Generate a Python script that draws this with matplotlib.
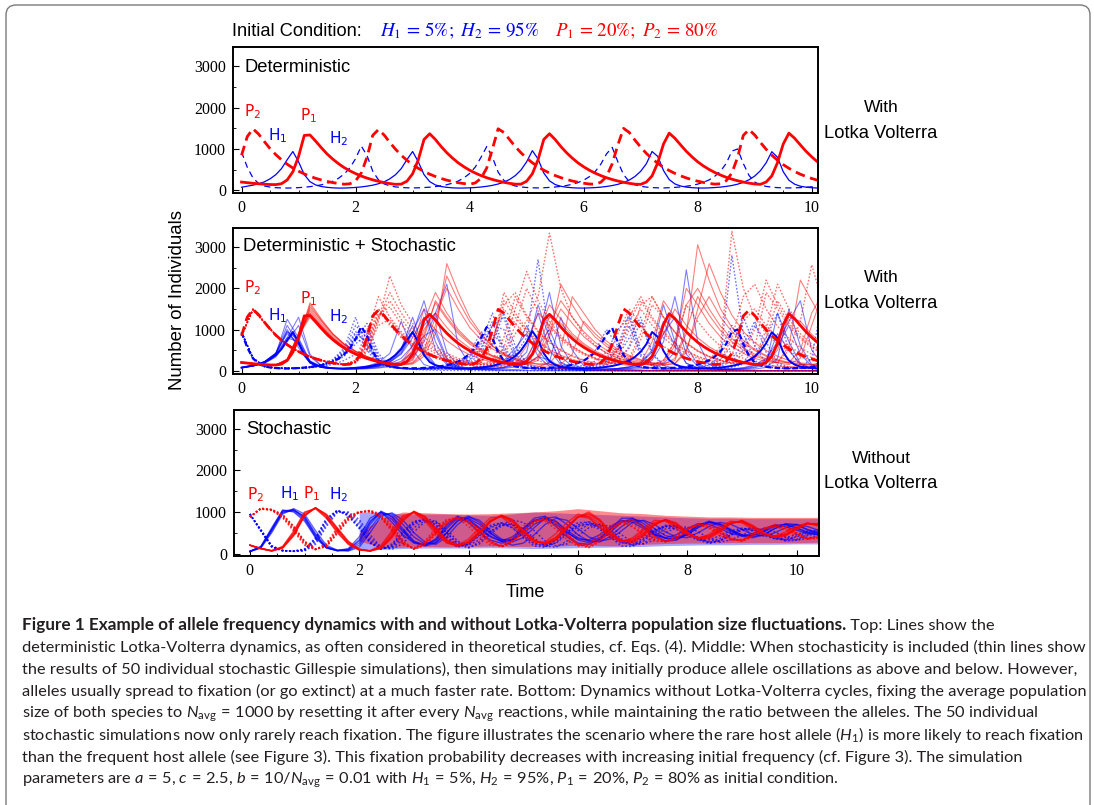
import numpy as np
import matplotlib
matplotlib.use("Agg")
import matplotlib.pyplot as plt
from matplotlib.patches import FancyBboxPatch

plt.rcParams['mathtext.fontset'] = 'custom'
plt.rcParams['mathtext.rm'] = 'Lato'
plt.rcParams['mathtext.it'] = 'Lato:italic'
plt.rcParams['mathtext.bf'] = 'Lato:bold'

# ------------------------------------------------------------------ data
# deterministic Lotka-Volterra curves, sampled every 0.1 time units from t=0
P1_det = [200, 185, 170, 158, 148, 140, 138, 160, 250, 450,
          820, 1330, 1340, 1190, 1030, 880, 755, 645, 550, 472,
          405, 345, 296, 254, 218, 188, 164, 145, 150, 220,
          400, 740, 1230, 1370, 1230, 1060, 910, 780, 665, 570,
          487, 417, 357, 305, 262, 225, 194, 169, 149, 150,
          220, 400, 740, 1230, 1370, 1230, 1060, 910, 780, 665,
          570, 487, 417, 357, 305, 262, 225, 194, 169, 149,
          145, 200, 350, 670, 1120, 1385, 1260, 1100, 945, 810,
          690, 590, 505, 432, 370, 315, 270, 232, 200, 174,
          153, 145, 200, 350, 670, 1120, 1385, 1260, 1100, 945,
          810, 690]
P2_det = [850, 1300, 1490, 1360, 1180, 1010, 865, 740, 632, 540,
          463, 397, 340, 290, 250, 215, 187, 165, 148, 158,
          230, 420, 800, 1330, 1470, 1340, 1160, 995, 850, 727,
          622, 532, 456, 390, 335, 286, 246, 212, 184, 163,
          146, 180, 290, 540, 1000, 1490, 1400, 1230, 1060, 910,
          780, 667, 570, 488, 418, 358, 307, 263, 226, 196,
          172, 153, 148, 195, 330, 640, 1100, 1500, 1400, 1215,
          1045, 893, 766, 654, 558, 479, 410, 351, 300, 257,
          221, 191, 168, 150, 158, 230, 420, 800, 1330, 1470,
          1340, 1160, 995, 850, 727, 622, 532, 456, 390, 335,
          286, 246]
H1_det = [75, 100, 125, 160, 205, 278, 378, 525, 740, 940,
          690, 380, 210, 130, 92, 72, 60, 54, 55, 61,
          70, 82, 100, 124, 158, 205, 278, 378, 525, 740,
          940, 690, 380, 210, 130, 92, 72, 60, 54, 55,
          60, 68, 80, 97, 120, 152, 197, 262, 355, 490,
          690, 960, 760, 420, 230, 140, 97, 75, 62, 55,
          54, 59, 66, 77, 93, 115, 145, 187, 248, 335,
          460, 645, 940, 820, 480, 260, 155, 104, 78, 64,
          56, 55, 59, 67, 78, 95, 117, 148, 192, 255,
          345, 475, 665, 935, 800, 450, 245, 148, 100, 76,
          63, 56]
H2_det = [930, 560, 300, 165, 105, 78, 64, 57, 55, 58,
          65, 75, 89, 108, 133, 169, 219, 291, 394, 544,
          766, 1070, 845, 466, 255, 155, 108, 83, 69, 61,
          58, 61, 67, 76, 90, 110, 136, 173, 225, 300,
          407, 565, 800, 1060, 800, 440, 243, 150, 105, 82,
          68, 61, 58, 62, 70, 80, 96, 117, 146, 188,
          245, 330, 450, 630, 880, 1040, 690, 380, 210, 135,
          97, 78, 66, 60, 58, 63, 71, 82, 98, 120,
          150, 193, 252, 340, 465, 650, 950, 1000, 650, 360,
          200, 130, 95, 76, 65, 60, 58, 60, 66, 74,
          86, 104]

# stochastic runs with Lotka-Volterra (middle), sampled every 0.2 time units
mid_H1 = [
    [75, 120, 210, 420, 1000, 560, 180, 80, 55, 50, 60, 85, 140, 260, 560, 1100, 420, 130, 60, 45,
     45, 55, 80, 140, 300, 700, 1400, 500, 150, 60, 40, 35, 40, 55, 90, 180, 450, 1200, 600, 180,
     70, 40, 30, 35, 50, 90, 220, 900, 500, 150, 60, 40],
    [70, 115, 200, 400, 1250, 800, 220, 90, 55, 45, 50, 70, 110, 200, 420, 900, 1700, 700, 180, 70,
     40, 35, 40, 55, 90, 170, 340, 260, 90, 40, 20, 12, 8, 6, 5, 4, 3, 3, 2, 2,
     2, 1, 1, 1, 1, 1, 1, 1, 1, 1, 1, 1],
    [80, 130, 220, 430, 900, 650, 200, 85, 55, 40, 38, 45, 65, 100, 170, 320, 700, 1400, 2100, 600,
     150, 55, 30, 25, 30, 45, 90, 200, 1300, 500, 120, 50, 30, 25, 30, 45, 80, 170, 450, 2450,
     700, 150, 50, 30, 28, 40, 80, 300, 1500, 600, 150, 60],
    [70, 110, 180, 330, 700, 1100, 350, 110, 60, 45, 45, 55, 80, 130, 230, 450, 850, 1000, 300, 90,
     40, 20, 10, 6, 4, 3, 2, 2, 1, 1, 1, 1, 1, 1, 1, 1, 1, 1, 1, 1,
     1, 1, 1, 1, 1, 1, 1, 1, 1, 1, 1, 1],
    [75, 120, 200, 390, 800, 700, 230, 95, 60, 50, 55, 75, 120, 220, 450, 950, 1500, 500, 140, 60,
     40, 38, 50, 90, 180, 450, 1600, 800, 200, 70, 40, 30, 30, 40, 60, 110, 250, 700, 1800, 600,
     150, 60, 35, 30, 40, 70, 160, 1400, 700, 180, 60, 35],
    [80, 125, 215, 410, 950, 620, 190, 80, 55, 55, 70, 110, 200, 420, 1200, 500, 150, 60, 40, 35,
     40, 60, 110, 250, 550, 900, 350, 100, 45, 25, 20, 18, 20, 30, 50, 80, 60, 30, 15, 8,
     5, 3, 2, 2, 1, 1, 1, 1, 1, 1, 1, 1],
    [75, 115, 190, 360, 800, 1300, 400, 120, 60, 48, 50, 65, 100, 170, 300, 600, 1100, 1400, 450, 120,
     55, 40, 45, 70, 130, 260, 600, 1000, 350, 100, 50, 35, 38, 55, 95, 190, 500, 1600, 700, 180,
     70, 40, 35, 45, 75, 140, 300, 700, 1200, 1700, 500, 120],
    [78, 125, 215, 420, 1100, 650, 200, 85, 55, 45, 55, 80, 130, 240, 500, 1300, 500, 150, 65, 45,
     45, 60, 100, 200, 450, 1100, 500, 150, 60, 30, 15, 8, 4, 2, 1, 1, 1, 1, 1, 1,
     1, 1, 1, 1, 1, 1, 1, 1, 1, 1, 1, 1],
    [72, 118, 205, 400, 950, 750, 240, 95, 58, 47, 52, 72, 115, 210, 400, 800, 1300, 900, 250, 80,
     45, 40, 50, 80, 150, 320, 800, 1900, 600, 150, 60, 40, 38, 50, 80, 150, 350, 900, 1300, 400,
     110, 50, 35, 40, 60, 120, 260, 600, 1100, 400, 120, 60],
]
mid_P1 = [
    [200, 165, 140, 135, 280, 900, 1450, 1100, 800, 580, 420, 300, 220, 170, 160, 330, 1000, 1400, 1050, 760,
     550, 400, 290, 210, 160, 190, 550, 1300, 1150, 850, 620, 450, 330, 240, 180, 150, 280, 900, 1500, 1100,
     800, 580, 420, 300, 220, 170, 190, 500, 1300, 1200, 880, 640],
    [200, 170, 145, 140, 240, 750, 1650, 1250, 900, 650, 470, 340, 250, 185, 150, 200, 500, 1300, 2000, 1500,
     1050, 750, 530, 380, 270, 200, 160, 180, 500, 1800, 1400, 1000, 720, 520, 370, 270, 200, 170, 250, 900,
     3060, 2200, 1500, 1050, 740, 520, 370, 270, 200, 160, 140, 130],
    [200, 170, 150, 140, 260, 850, 1300, 1000, 740, 540, 400, 300, 230, 180, 200, 600, 1500, 1200, 900, 650,
     470, 340, 250, 190, 160, 260, 900, 1600, 1250, 900, 660, 480, 350, 260, 190, 150, 140, 250, 700, 2000,
     1600, 1150, 820, 590, 420, 300, 220, 200, 600, 2200, 1700, 1200],
    [200, 168, 145, 138, 230, 700, 1550, 1200, 880, 640, 470, 340, 250, 180, 140, 160, 350, 900, 2600, 1900,
     1300, 900, 600, 400, 260, 170, 110, 80, 60, 45, 35, 28, 22, 18, 15, 12, 10, 8, 7, 6,
     5, 4, 4, 3, 3, 2, 2, 2, 2, 2, 2, 2],
    [200, 172, 150, 142, 270, 880, 1380, 1050, 770, 560, 410, 300, 220, 165, 145, 250, 800, 1700, 1300, 950,
     690, 500, 360, 260, 190, 150, 250, 800, 2100, 1600, 1150, 820, 590, 420, 300, 220, 170, 150, 300, 1000,
     1800, 1350, 970, 700, 500, 360, 260, 190, 150, 300, 1100, 1900],
    [200, 168, 146, 140, 250, 800, 1500, 1150, 840, 610, 450, 330, 240, 180, 170, 500, 1300, 1000, 730, 530,
     390, 280, 210, 160, 200, 600, 1400, 1100, 800, 580, 420, 300, 220, 160, 130, 200, 700, 1700, 1300, 950,
     690, 500, 360, 260, 190, 140, 120, 110, 100, 95, 90, 85],
    [200, 166, 143, 137, 260, 820, 1400, 1080, 790, 570, 420, 300, 220, 165, 150, 280, 900, 1650, 1250, 900,
     650, 470, 340, 250, 180, 160, 350, 1100, 1700, 1300, 950, 690, 500, 360, 260, 190, 150, 200, 600, 1600,
     2000, 1500, 1080, 780, 560, 400, 290, 210, 200, 500, 1400, 1900],
    [200, 170, 148, 142, 275, 900, 1350, 1030, 760, 555, 405, 295, 215, 160, 170, 450, 1200, 1900, 1400, 1000,
     720, 520, 370, 270, 200, 170, 300, 900, 1500, 1150, 830, 600, 430, 310, 230, 170, 140, 130, 180, 500,
     1300, 1800, 1300, 950, 680, 490, 350, 250, 180, 150, 140, 200],
    [200, 169, 147, 139, 245, 780, 1600, 1220, 890, 645, 470, 340, 245, 180, 145, 180, 420, 1100, 2300, 1700,
     1200, 850, 600, 420, 300, 210, 160, 140, 160, 400, 1200, 900, 650, 470, 340, 250, 180, 150, 170, 450,
     1500, 2600, 1900, 1350, 950, 680, 490, 350, 250, 190, 160, 150],
]
mid_H2 = [
    [930, 310, 110, 65, 55, 62, 85, 130, 220, 420, 900, 700, 230, 100, 65, 55, 62, 85, 130, 220,
     420, 950, 750, 230, 100, 65, 55, 65, 90, 140, 240, 480, 1000, 600, 190, 90, 62, 55, 68, 95,
     150, 260, 520, 1100, 550, 180, 90, 62, 58, 70, 100, 160],
    [930, 300, 100, 62, 56, 68, 95, 150, 270, 550, 1300, 500, 160, 80, 55, 48, 52, 70, 110, 190,
     360, 700, 1400, 500, 150, 70, 45, 35, 32, 35, 45, 70, 130, 260, 550, 1200, 400, 120, 55, 35,
     28, 30, 45, 80, 160, 350, 800, 1400, 500, 140, 60, 40],
    [930, 290, 100, 60, 52, 58, 78, 115, 190, 350, 650, 900, 300, 110, 65, 50, 50, 60, 85, 140,
     250, 500, 1100, 1000, 300, 120, 70, 50, 45, 50, 70, 120, 230, 500, 1100, 350, 110, 60, 45, 50,
     80, 150, 350, 2800, 900, 250, 100, 60, 50, 60, 90, 150],
    [930, 300, 105, 63, 55, 64, 88, 135, 230, 430, 800, 600, 200, 90, 55, 40, 35, 35, 40, 50,
     70, 100, 160, 250, 400, 800, 2700, 800, 200, 60, 20, 8, 4, 2, 1, 1, 1, 1, 1, 1,
     1, 1, 1, 1, 1, 1, 1, 1, 1, 1, 1, 1],
    [930, 305, 108, 66, 57, 66, 90, 140, 240, 460, 950, 650, 210, 95, 60, 50, 55, 72, 110, 180,
     330, 650, 1200, 400, 130, 70, 50, 48, 55, 80, 130, 230, 450, 1000, 1300, 400, 130, 65, 48, 45,
     55, 85, 150, 300, 650, 1200, 450, 140, 70, 80, 300, 1800],
    [930, 300, 100, 60, 50, 55, 70, 100, 150, 250, 400, 550, 250, 100, 50, 30, 20, 12, 8, 5,
     3, 2, 1, 1, 1, 1, 1, 1, 1, 1, 1, 1, 1, 1, 1, 1, 1, 1, 1, 1,
     1, 1, 1, 1, 1, 1, 1, 1, 1, 1, 1, 1],
    [930, 305, 105, 63, 54, 63, 86, 132, 225, 410, 820, 1000, 350, 120, 65, 50, 52, 65, 95, 150,
     270, 550, 1100, 1300, 400, 130, 65, 48, 45, 52, 75, 130, 260, 600, 1400, 500, 150, 70, 50, 50,
     70, 130, 270, 600, 1300, 600, 180, 80, 55, 60, 110, 250],
    [930, 298, 102, 62, 53, 60, 82, 125, 210, 390, 750, 1150, 420, 130, 62, 45, 42, 48, 65, 100,
     170, 320, 650, 1400, 600, 170, 70, 42, 35, 38, 50, 85, 160, 350, 800, 1300, 450, 130, 60, 40,
     40, 60, 110, 230, 500, 1100, 700, 200, 80, 50, 55, 90],
    [930, 302, 104, 62, 55, 65, 92, 145, 255, 500, 1100, 800, 250, 100, 55, 40, 38, 45, 65, 110,
     200, 420, 900, 600, 180, 70, 35, 18, 9, 5, 3, 2, 1, 1, 1, 1, 1, 1, 1, 1,
     1, 1, 1, 1, 1, 1, 1, 1, 1, 1, 1, 1],
]
mid_P2 = [
    [850, 1480, 1170, 860, 630, 460, 340, 250, 185, 150, 220, 700, 1400, 1200, 880, 640, 470, 345, 255, 190,
     150, 250, 800, 1500, 1150, 840, 610, 450, 330, 240, 180, 150, 280, 900, 1500, 1100, 800, 590, 430, 315,
     230, 170, 160, 380, 1200, 1500, 1100, 800, 590, 430, 320, 240],
    [850, 1500, 1190, 870, 640, 470, 345, 255, 190, 155, 200, 450, 1200, 2300, 1600, 1150, 820, 590, 420, 300,
     220, 170, 200, 550, 1500, 2410, 1700, 1200, 850, 600, 430, 310, 230, 180, 300, 900, 1800, 1300, 930, 660,
     470, 340, 250, 190, 160, 300, 1000, 2100, 1500, 1100, 780, 560],
    [850, 1490, 1180, 865, 635, 465, 342, 252, 188, 150, 240, 850, 1800, 1300, 950, 690, 500, 360, 260, 190,
     150, 180, 700, 1700, 1300, 950, 700, 500, 370, 270, 200, 160, 180, 500, 1200, 1700, 1250, 900, 650, 470,
     340, 250, 600, 3380, 2000, 1300, 900, 650, 470, 340, 250, 190],
    [850, 1490, 1175, 860, 628, 460, 338, 248, 185, 148, 210, 600, 1300, 1700, 1250, 900, 650, 470, 340, 245,
     180, 140, 160, 350, 900, 1200, 1800, 3340, 2000, 1300, 900, 620, 430, 300, 220, 170, 150, 250, 700, 1600,
     1200, 850, 600, 430, 300, 220, 170, 200, 500, 1200, 2570, 1600],
    [850, 1480, 1170, 850, 620, 455, 335, 245, 180, 145, 200, 500, 1100, 1250, 900, 650, 470, 340, 250, 180,
     130, 100, 90, 110, 180, 300, 250, 160, 100, 60, 35, 20, 12, 7, 4, 3, 2, 1, 1, 1,
     1, 1, 1, 1, 1, 1, 1, 1, 1, 1, 1, 1],
    [850, 1495, 1185, 868, 636, 466, 343, 252, 188, 150, 260, 1000, 1500, 1100, 800, 580, 420, 305, 222, 165,
     135, 200, 600, 1900, 1400, 1000, 720, 520, 370, 270, 200, 160, 200, 550, 1300, 1800, 1300, 950, 680, 490,
     350, 250, 190, 170, 400, 1000, 2200, 1600, 1150, 820, 590, 420],
    [850, 1485, 1172, 858, 626, 458, 336, 246, 183, 147, 190, 520, 1250, 1900, 1400, 1000, 720, 520, 370, 265,
     190, 150, 170, 420, 1100, 2000, 1450, 1050, 750, 540, 390, 280, 200, 160, 250, 750, 1600, 1300, 940, 680,
     490, 350, 250, 190, 200, 550, 1900, 1500, 1080, 780, 560, 400],
    [850, 1492, 1182, 866, 634, 465, 342, 251, 187, 150, 230, 750, 1500, 1150, 840, 610, 440, 320, 230, 170,
     140, 220, 700, 1600, 1900, 1350, 970, 700, 500, 360, 260, 190, 160, 330, 1000, 1500, 1100, 800, 580, 420,
     300, 220, 250, 800, 1800, 2100, 1500, 1080, 780, 560, 400, 300],
    [850, 1488, 1178, 862, 631, 462, 340, 250, 186, 149, 215, 650, 1350, 1550, 1120, 810, 580, 420, 300, 215,
     160, 150, 250, 800, 1800, 1300, 940, 680, 490, 350, 250, 180, 150, 200, 600, 1600, 1800, 1300, 930, 670,
     480, 340, 245, 180, 160, 280, 800, 1700, 1250, 900, 650, 470],
]

# stochastic runs without Lotka-Volterra (bottom), sampled every 0.2 time units
bot_H1 = [
    [50, 150, 560, 1000, 1050, 880, 450, 150, 70, 80, 250, 700, 1000, 900, 600, 300, 200, 300, 600, 850,
     800, 600, 400, 300, 400, 600, 800, 850, 700, 500, 350, 330, 450, 650, 800, 750, 600, 450, 380, 450,
     600, 720, 700, 600, 480, 420, 480, 600, 680, 650, 560, 480, 450],
    [55, 170, 620, 1050, 1000, 780, 380, 130, 70, 120, 400, 850, 1000, 750, 450, 250, 200, 350, 700, 900,
     750, 500, 320, 250, 350, 600, 850, 900, 650, 400, 250, 220, 350, 600, 850, 850, 650, 450, 300, 320,
     480, 680, 780, 700, 550, 420, 380, 450, 600, 720, 700, 580, 500],
    [45, 130, 500, 950, 1080, 950, 550, 200, 80, 60, 150, 500, 900, 980, 800, 500, 280, 220, 400, 700,
     880, 800, 550, 350, 280, 380, 620, 850, 880, 700, 450, 300, 280, 420, 650, 820, 780, 600, 430, 380,
     450, 620, 750, 700, 560, 450, 430, 520, 650, 700, 620, 520, 470],
    [50, 160, 580, 1020, 1060, 850, 420, 140, 65, 90, 300, 750, 1020, 880, 550, 280, 180, 250, 500, 800,
     900, 750, 500, 300, 200, 250, 450, 700, 850, 800, 600, 400, 300, 350, 550, 750, 800, 700, 520, 400,
     380, 500, 650, 750, 700, 580, 460, 420, 500, 620, 700, 650, 560],
    [50, 140, 540, 980, 1040, 900, 480, 160, 75, 70, 200, 600, 950, 950, 700, 400, 230, 260, 500, 780,
     850, 700, 480, 330, 320, 480, 700, 830, 780, 560, 380, 300, 380, 580, 780, 800, 650, 480, 360, 360,
     500, 680, 750, 660, 520, 430, 430, 550, 680, 700, 600, 500, 450],
    [52, 155, 590, 1030, 1020, 820, 400, 140, 70, 100, 330, 780, 990, 820, 520, 270, 210, 330, 650, 880,
     830, 620, 420, 290, 330, 550, 780, 880, 760, 520, 330, 260, 330, 520, 750, 850, 720, 520, 370, 340,
     450, 640, 760, 720, 580, 450, 400, 460, 600, 700, 680, 570, 480],
]
bot_H2 = [
    [950, 560, 170, 70, 55, 80, 300, 750, 1030, 950, 700, 320, 120, 150, 400, 700, 820, 700, 420, 200,
     230, 420, 620, 720, 620, 420, 230, 200, 320, 520, 680, 700, 580, 380, 250, 280, 420, 580, 650, 580,
     430, 320, 330, 430, 550, 610, 550, 430, 360, 380, 460, 540, 560],
    [950, 540, 150, 65, 60, 110, 380, 850, 1040, 900, 600, 250, 110, 230, 530, 780, 800, 620, 330, 150,
     250, 500, 680, 740, 620, 380, 180, 150, 330, 580, 740, 760, 620, 380, 180, 170, 340, 550, 680, 660,
     500, 330, 240, 310, 460, 590, 620, 540, 400, 300, 320, 430, 500],
    [950, 580, 190, 75, 50, 60, 220, 650, 990, 1000, 820, 450, 150, 100, 240, 520, 760, 780, 580, 300,
     150, 230, 470, 660, 720, 600, 370, 180, 150, 300, 550, 700, 700, 560, 350, 200, 240, 420, 590, 630,
     550, 380, 270, 310, 450, 560, 570, 480, 360, 330, 400, 490, 540],
    [950, 555, 165, 68, 55, 90, 330, 800, 1040, 930, 650, 280, 100, 180, 470, 730, 850, 770, 500, 220,
     130, 280, 520, 700, 800, 750, 550, 300, 180, 230, 420, 620, 700, 650, 450, 270, 230, 330, 500, 620,
     640, 520, 370, 270, 330, 440, 560, 600, 520, 400, 320, 360, 450],
    [950, 570, 180, 72, 56, 70, 260, 700, 1010, 980, 760, 380, 140, 130, 330, 620, 790, 740, 500, 260,
     200, 330, 540, 680, 700, 540, 330, 200, 250, 460, 640, 720, 640, 440, 260, 220, 370, 540, 660, 650,
     520, 350, 280, 360, 500, 590, 590, 470, 350, 330, 420, 520, 560],
    [950, 550, 160, 66, 58, 100, 360, 820, 1040, 920, 620, 260, 110, 200, 500, 760, 820, 680, 380, 170,
     220, 450, 640, 740, 690, 470, 250, 170, 260, 500, 690, 760, 680, 500, 290, 200, 300, 500, 650, 680,
     570, 380, 260, 300, 440, 570, 620, 560, 420, 320, 340, 450, 530],
]
bot_P1 = [
    [200, 120, 65, 150, 480, 950, 1100, 900, 550, 250, 90, 60, 150, 450, 850, 1000, 850, 550, 280, 180,
     300, 550, 800, 900, 750, 500, 300, 250, 400, 650, 900, 850, 650, 420, 300, 350, 550, 750, 800, 650,
     480, 380, 430, 600, 750, 760, 620, 480, 420, 480, 620, 720, 680],
    [200, 115, 60, 130, 420, 900, 1100, 950, 620, 300, 110, 60, 120, 380, 780, 1020, 900, 620, 330, 200,
     250, 480, 760, 920, 820, 560, 320, 220, 320, 600, 880, 1000, 820, 520, 300, 260, 420, 680, 820, 740,
     520, 370, 360, 520, 720, 800, 680, 500, 380, 420, 580, 720, 720],
    [200, 125, 70, 170, 540, 1000, 1080, 850, 500, 220, 80, 70, 200, 550, 920, 980, 780, 480, 250, 200,
     350, 620, 860, 880, 680, 430, 260, 280, 480, 740, 950, 880, 620, 380, 280, 380, 600, 800, 780, 600,
     440, 360, 460, 650, 780, 740, 580, 440, 420, 520, 660, 740, 660],
    [200, 118, 62, 140, 450, 920, 1100, 920, 580, 270, 100, 65, 170, 500, 880, 1000, 820, 520, 260, 170,
     270, 500, 780, 920, 800, 540, 310, 230, 360, 620, 880, 950, 780, 500, 320, 300, 480, 700, 820, 700,
     500, 370, 400, 560, 730, 780, 650, 490, 400, 450, 600, 730, 700],
    [200, 122, 68, 160, 510, 980, 1090, 870, 520, 230, 85, 62, 140, 420, 820, 1010, 880, 580, 300, 190,
     280, 520, 780, 900, 780, 520, 300, 240, 380, 640, 880, 900, 720, 460, 300, 320, 500, 720, 800, 680,
     480, 380, 420, 580, 740, 770, 640, 480, 410, 460, 610, 720, 690],
    [200, 117, 63, 135, 440, 910, 1100, 930, 600, 280, 100, 60, 130, 400, 800, 1000, 880, 600, 320, 210,
     260, 500, 770, 910, 810, 550, 320, 230, 340, 610, 880, 960, 800, 500, 310, 280, 450, 690, 810, 720,
     510, 370, 380, 540, 720, 790, 660, 490, 390, 440, 590, 720, 710],
]
bot_P2 = [
    [880, 1080, 1050, 900, 600, 250, 100, 200, 550, 850, 1000, 1020, 900, 600, 250, 120, 250, 500, 750, 850,
     720, 480, 250, 170, 300, 550, 750, 800, 650, 420, 200, 230, 420, 620, 720, 650, 480, 320, 280, 420,
     580, 680, 630, 480, 340, 320, 450, 580, 650, 600, 460, 360, 400],
    [880, 1090, 1060, 940, 660, 300, 110, 160, 480, 800, 990, 1040, 950, 680, 320, 100, 200, 460, 720, 870,
     800, 580, 320, 160, 260, 520, 760, 870, 760, 480, 220, 140, 280, 560, 780, 820, 660, 420, 290, 340,
     560, 700, 720, 560, 360, 290, 400, 580, 700, 660, 500, 360, 360],
    [880, 1070, 1040, 860, 540, 200, 90, 250, 620, 900, 1010, 1000, 850, 530, 200, 130, 300, 600, 820, 850,
     650, 400, 200, 200, 400, 650, 820, 780, 580, 340, 170, 240, 460, 680, 760, 640, 440, 290, 300, 460,
     620, 700, 600, 430, 310, 340, 480, 620, 660, 560, 420, 340, 420],
    [880, 1085, 1055, 920, 630, 280, 100, 180, 520, 840, 1000, 1030, 880, 560, 230, 110, 280, 560, 800, 880,
     780, 540, 280, 160, 280, 540, 760, 840, 700, 460, 220, 170, 330, 580, 760, 780, 620, 400, 280, 380,
     580, 700, 680, 520, 350, 310, 430, 590, 680, 630, 480, 350, 380],
    [880, 1075, 1045, 880, 570, 230, 95, 220, 580, 870, 1005, 1010, 870, 580, 260, 110, 220, 520, 780, 860,
     760, 520, 270, 180, 320, 580, 780, 820, 660, 420, 200, 200, 380, 620, 760, 720, 540, 360, 290, 400,
     600, 690, 650, 500, 340, 320, 460, 600, 660, 600, 470, 360, 400],
    [880, 1088, 1058, 930, 650, 290, 105, 170, 500, 820, 995, 1035, 920, 640, 290, 100, 220, 500, 760, 880,
     790, 560, 300, 160, 270, 530, 760, 860, 740, 470, 220, 150, 300, 570, 770, 800, 640, 410, 285, 360,
     570, 700, 700, 540, 355, 300, 415, 585, 690, 645, 490, 355, 370],
]
# envelope of the dense bundle of 50 runs (bottom), every 0.4 time units from t=2.0
band_t = [2.0, 2.4, 2.8, 3.2, 3.6, 4.0, 4.4, 4.8, 5.2, 5.6, 6.0,
          6.4, 6.8, 7.2, 7.6, 8.0, 8.4, 8.8, 9.2, 9.6, 10.0, 10.4]
red_lo = [300, 150, 150, 170, 160, 170, 180, 170, 170, 180, 200,
          190, 180, 220, 240, 250, 250, 260, 260, 260, 260, 270]
red_hi = [500, 850, 1000, 980, 960, 950, 960, 980, 1000, 1030, 1080,
          1030, 980, 960, 920, 900, 880, 880, 870, 870, 870, 870]
blue_lo = [80, 100, 120, 130, 130, 130, 140, 130, 120, 130, 140,
           150, 160, 170, 190, 200, 210, 210, 220, 220, 230, 230]
blue_hi = [1000, 1000, 950, 950, 950, 930, 920, 950, 1000, 980, 960,
           940, 920, 900, 880, 860, 850, 850, 840, 840, 840, 840]

x_ticks = [0, 2, 4, 6, 8, 10]
y_ticks = [0, 1000, 2000, 3000]
panel_titles = ["Deterministic", "Deterministic + Stochastic", "Stochastic"]
side_labels = [("With", "Lotka Volterra"), ("With", "Lotka Volterra"), ("Without", "Lotka Volterra")]

caption_bold = "Figure 1 Example of allele frequency dynamics with and without Lotka-Volterra population size fluctuations."
caption_lines = [
    " Top: Lines show the",
    "deterministic Lotka-Volterra dynamics, as often considered in theoretical studies, cf. Eqs. (4). Middle: When stochasticity is included (thin lines show",
    "the results of 50 individual stochastic Gillespie simulations), then simulations may initially produce allele oscillations as above and below. However,",
    "alleles usually spread to fixation (or go extinct) at a much faster rate. Bottom: Dynamics without Lotka-Volterra cycles, fixing the average population",
    r"size of both species to $N_{\mathrm{avg}}\,=\,1000$ by resetting it after every $N_{\mathrm{avg}}$ reactions, while maintaining the ratio between the alleles. The 50 individual",
    r"stochastic simulations now only rarely reach fixation. The figure illustrates the scenario where the rare host allele ($H_1$) is more likely to reach fixation",
    "than the frequent host allele (see Figure 3). This fixation probability decreases with increasing initial frequency (cf. Figure 3). The simulation",
    r"parameters are $a\,=\,5$, $c\,=\,2.5$, $b\,=\,10/N_{\mathrm{avg}}\,=\,0.01$ with $H_1\,=\,5\%$, $H_2\,=\,95\%$, $P_1\,=\,20\%$, $P_2\,=\,80\%$ as initial condition.",
]

RED = "#ff0000"
BLUE = "#0000ff"

# ------------------------------------------------------------------ figure
FW, FH = 1094, 805
fig = plt.figure(figsize=(FW / 100, FH / 100), dpi=100)
fig.patch.set_facecolor("white")
renderer = fig.canvas.get_renderer()


def px(x, y):
    return x / FW, 1 - y / FH


def fit(txt, target):
    w = txt.get_window_extent(renderer=renderer).width
    txt.set_fontsize(txt.get_fontsize() * target / w)


border = FancyBboxPatch((0.06, -0.5), 10.84, 8.5,
                        boxstyle="round,pad=0,rounding_size=0.1",
                        transform=fig.dpi_scale_trans, facecolor="none",
                        edgecolor="#7a7a7a", lw=1.0, zorder=0)
fig.patches.append(border)


def make_axes(left, top, right, bottom):
    ax = fig.add_axes([left / FW, 1 - bottom / FH, (right - left) / FW, (bottom - top) / FH])
    for sp in ax.spines.values():
        sp.set_linewidth(1.4)
    ax.set_xticks(x_ticks)
    ax.set_xticks(np.arange(0, 10.6, 0.5), minor=True)
    ax.set_yticks(y_ticks)
    ax.set_yticks(np.arange(0, 3600, 500), minor=True)
    ax.tick_params(which="major", direction="in", length=4, width=0.8, pad=5,
                   labelsize=11.5, labelfontfamily="Liberation Serif", top=False, right=False)
    ax.tick_params(which="minor", direction="in", length=2.2, width=0.6, top=False, right=False)
    return ax


ax1 = make_axes(233, 47, 818, 193)
ax2 = make_axes(233, 228, 818, 374)
ax3 = make_axes(234, 410, 819, 556)
ax1.set_xlim(-0.15, 10.11); ax1.set_ylim(-65, 3470)
ax2.set_xlim(-0.15, 10.11); ax2.set_ylim(-80, 3465)
ax3.set_xlim(-0.29, 10.41); ax3.set_ylim(-60, 3455)


def tgrid(v, step):
    return np.arange(len(v)) * step


# top panel
ax1.plot(tgrid(H1_det, 0.1), H1_det, color=BLUE, lw=0.9)
ax1.plot(tgrid(H2_det, 0.1), H2_det, color=BLUE, lw=0.9, ls=(0, (5, 3.5)))
ax1.plot(tgrid(P2_det, 0.1), P2_det, color=RED, lw=2.0, ls=(0, (3.5, 2)))
ax1.plot(tgrid(P1_det, 0.1), P1_det, color=RED, lw=2.0)

# middle panel
dot = (0, (1.2, 1.3))
for v in mid_H1:
    ax2.plot(tgrid(v, 0.2), v, color=BLUE, lw=0.8, alpha=0.5)
for v in mid_H2:
    ax2.plot(tgrid(v, 0.2), v, color=BLUE, lw=1.0, alpha=0.55, ls=dot)
for v in mid_P1:
    ax2.plot(tgrid(v, 0.2), v, color=RED, lw=0.8, alpha=0.5)
for v in mid_P2:
    ax2.plot(tgrid(v, 0.2), v, color=RED, lw=1.0, alpha=0.55, ls=dot)
ax2.plot(tgrid(H1_det, 0.1), H1_det, color=BLUE, lw=1.4)
ax2.plot(tgrid(H2_det, 0.1), H2_det, color=BLUE, lw=1.6, ls=(0, (2.5, 1.5)))
ax2.plot(tgrid(P2_det, 0.1), P2_det, color=RED, lw=2.0, ls=(0, (3.5, 2)))
ax2.plot(tgrid(P1_det, 0.1), P1_det, color=RED, lw=2.0)

# bottom panel
ax3.fill_between(band_t, blue_lo, blue_hi, color=BLUE, alpha=0.35, lw=0)
ax3.fill_between(band_t, red_lo, red_hi, color=RED, alpha=0.45, lw=0)
for v in bot_H1:
    ax3.plot(tgrid(v, 0.2), v, color=BLUE, lw=1.0, alpha=0.6)
for v in bot_H2:
    ax3.plot(tgrid(v, 0.2), v, color=BLUE, lw=1.1, alpha=0.65, ls=dot)
for v in bot_P1:
    ax3.plot(tgrid(v, 0.2), v, color=RED, lw=1.0, alpha=0.65)
for v in bot_P2:
    ax3.plot(tgrid(v, 0.2), v, color=RED, lw=1.1, alpha=0.7, ls=dot)

# curve labels
lab_kw = dict(fontsize=11, ha="center", va="center", math_fontfamily="dejavusans", zorder=5)
for ax, pos in [
    (ax1, [(0.20, 1895, "P", 2, RED), (0.64, 1330, "H", 1, BLUE), (1.17, 1815, "P", 1, RED), (1.71, 1250, "H", 2, BLUE)]),
    (ax2, [(0.19, 2005, "P", 2, RED), (0.64, 1330, "H", 1, BLUE), (1.17, 1760, "P", 1, RED), (1.71, 1315, "H", 2, BLUE)]),
    (ax3, [(0.11, 1405, "P", 2, RED), (0.72, 1445, "H", 1, BLUE), (1.13, 1430, "P", 1, RED), (1.63, 1405, "H", 2, BLUE)]),
]:
    for x, y, s, k, c in pos:
        ax.text(x, y, r"$\mathrm{%s}_{%d}$" % (s, k), color=c, **lab_kw)

# panel titles
for ax, title, (x0, yc, w) in zip([ax1, ax2, ax3], panel_titles,
                                  [(244, 67, 106), (242.7, 246.7, 213), (246.7, 429.3, 85)]):
    t = fig.text(*px(x0, yc), title, fontsize=13, family="Liberation Sans", ha="left", va="center")
    fit(t, w)

# right-hand labels
for (l1, l2), (y1, y2) in zip(side_labels, [(108, 133), (278, 303), (458, 483)]):
    fig.text(*px(881, y1), l1, fontsize=12.5, family="Liberation Sans", ha="center", va="center")
    t2 = fig.text(*px(881, y2), l2, fontsize=12.5, family="Liberation Sans", ha="center", va="center")
    fit(t2, 114)

# axis labels
yl = fig.text(*px(177, 300), "Number of Individuals", fontsize=13, family="Liberation Sans",
              ha="center", va="center")
fit(yl, 180)
yl.set_rotation(90)
xl = fig.text(*px(525, 592), "Time", fontsize=13, family="Liberation Sans", ha="center", va="center")

# heading
h0 = fig.text(*px(232.5, 31), "Initial Condition:", fontsize=13,
              family=["Liberation Sans Narrow", "Liberation Sans"], ha="left", va="center")
fit(h0, 130)
h1 = fig.text(*px(380, 31), r"$H_1\,=\,5\%;\ H_2\,=\,95\%$", color=BLUE, fontsize=14,
              math_fontfamily="stix", ha="left", va="center")
fit(h1, 160)
h2 = fig.text(*px(555, 31), r"$P_1\,=\,20\%;\ P_2\,=\,80\%$", color=RED, fontsize=14,
              math_fontfamily="stix", ha="left", va="center")
fit(h2, 164)

# caption
CAP = "#231f20"
x_cap = 22
baselines = [630, 652, 674, 696, 718, 740, 762, 784]
probe = fig.text(0, 0, caption_lines[1], fontsize=10, family="Lato")
w_probe = probe.get_window_extent(renderer=renderer).width
probe.remove()
cap_size = 10 * 1058 / w_probe

tb = fig.text(*px(x_cap, baselines[0]), caption_bold, fontsize=cap_size, family="Lato",
              weight="bold", color=CAP, ha="left", va="baseline")
fit(tb, 826)
wb = tb.get_window_extent(renderer=renderer).width
fig.text(*px(x_cap + wb, baselines[0]), caption_lines[0], fontsize=cap_size, family="Lato",
         color=CAP, ha="left", va="baseline")
for line, yb in zip(caption_lines[1:], baselines[1:]):
    fig.text(*px(x_cap, yb), line, fontsize=cap_size, family="Lato", color=CAP,
             ha="left", va="baseline", math_fontfamily="custom")

fig.savefig("out.png", dpi=100)
